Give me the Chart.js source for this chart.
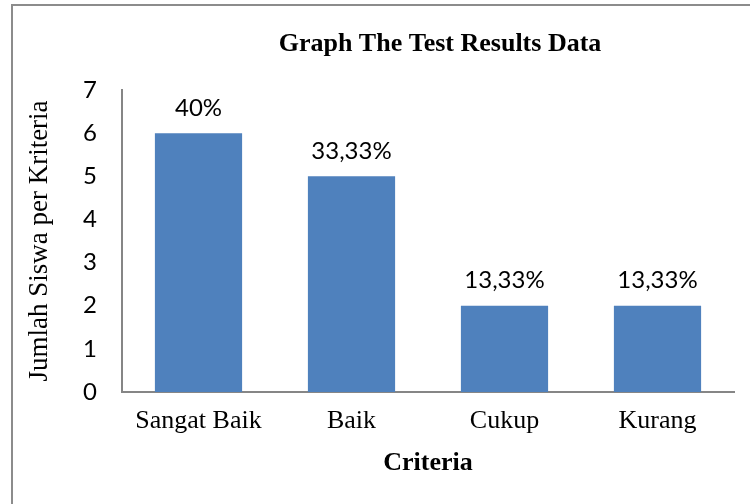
<!DOCTYPE html>
<html>
<head>
<meta charset="utf-8">
<script src="https://cdn.jsdelivr.net/npm/chart.js@4"></script>
<style>
  html, body { margin: 0; padding: 0; overflow: hidden; background: #fff; }
  #frame {
    position: absolute; left: 11px; top: 4px; width: 900px; height: 700px;
    border: 2px solid #8c8c8c;
  }
  #wrap { position: absolute; left: 0; top: 0; width: 750px; height: 504px; }
</style>
</head>
<body>
<div id="frame"></div>
<div id="wrap"><canvas id="testChart" width="750" height="504"></canvas></div>
<script>
const categories = ["Sangat Baik", "Baik", "Cukup", "Kurang"];
const jumlahSiswa = [6, 5, 2, 2];
const persen = ["40%", "33,33%", "13,33%", "13,33%"];
const yTicks = [0, 1, 2, 3, 4, 5, 6, 7];

const tickFont = { family: "Lato", size: 24 };
const serif = "'Liberation Serif', 'Times New Roman', serif";

// chart title + percentage labels above the bars
const extras = {
  id: "extras",
  afterDatasetsDraw(chart) {
    const ctx = chart.ctx;
    const area = chart.chartArea;
    ctx.save();
    ctx.fillStyle = "#000";
    ctx.textAlign = "center";
    ctx.textBaseline = "middle";
    ctx.font = "bold 26px " + serif;
    ctx.fillText("Graph The Test Results Data", (area.left + area.right) / 2 + 12, 44);

    ctx.font = tickFont.size + "px " + tickFont.family;
    chart.getDatasetMeta(0).data.forEach((bar, i) => {
      ctx.fillText(persen[i], bar.x, bar.y - 25);
    });
    ctx.restore();
  }
};

const ctx = document.getElementById("testChart").getContext("2d");
new Chart(ctx, {
  type: "bar",
  data: {
    labels: categories,
    datasets: [
      {
        label: "Jumlah Siswa",
        data: jumlahSiswa,
        backgroundColor: "#4f81bd",
        borderWidth: 0,
        categoryPercentage: 1,
        barPercentage: 0.57,
      },
    ],
  },
  options: {
    responsive: false,
    animation: false,
    layout: { padding: { top: 90, right: 16, left: 0, bottom: 0 } },
    plugins: {
      legend: { display: false },
      tooltip: { enabled: false },
    },
    scales: {
      x: {
        grid: { display: false, drawTicks: false },
        border: { display: true, color: "#868686", width: 2 },
        ticks: { color: "#000", font: { family: serif, size: 26 }, padding: 14, maxRotation: 0 },
        title: {
          display: true,
          text: "Criteria",
          color: "#000",
          font: { family: serif, size: 26, weight: "bold" },
          padding: { top: 0, bottom: 25 },
        },
        afterFit(scale) { scale.height = 112; },
      },
      y: {
        min: 0,
        max: 7,
        grid: { display: false, drawTicks: false },
        border: { display: true, color: "#868686", width: 2 },
        afterBuildTicks(scale) { scale.ticks = yTicks.map(v => ({ value: v })); },
        ticks: { color: "#000", font: tickFont, padding: 25 },
        title: {
          display: true,
          text: "Jumlah Siswa per Kriteria",
          color: "#000",
          font: { family: serif, size: 27 },
          padding: { top: 24, bottom: 0 },
        },
        afterFit(scale) { scale.width = 122; },
      },
    },
  },
  plugins: [extras],
});
</script>
</body>
</html>
